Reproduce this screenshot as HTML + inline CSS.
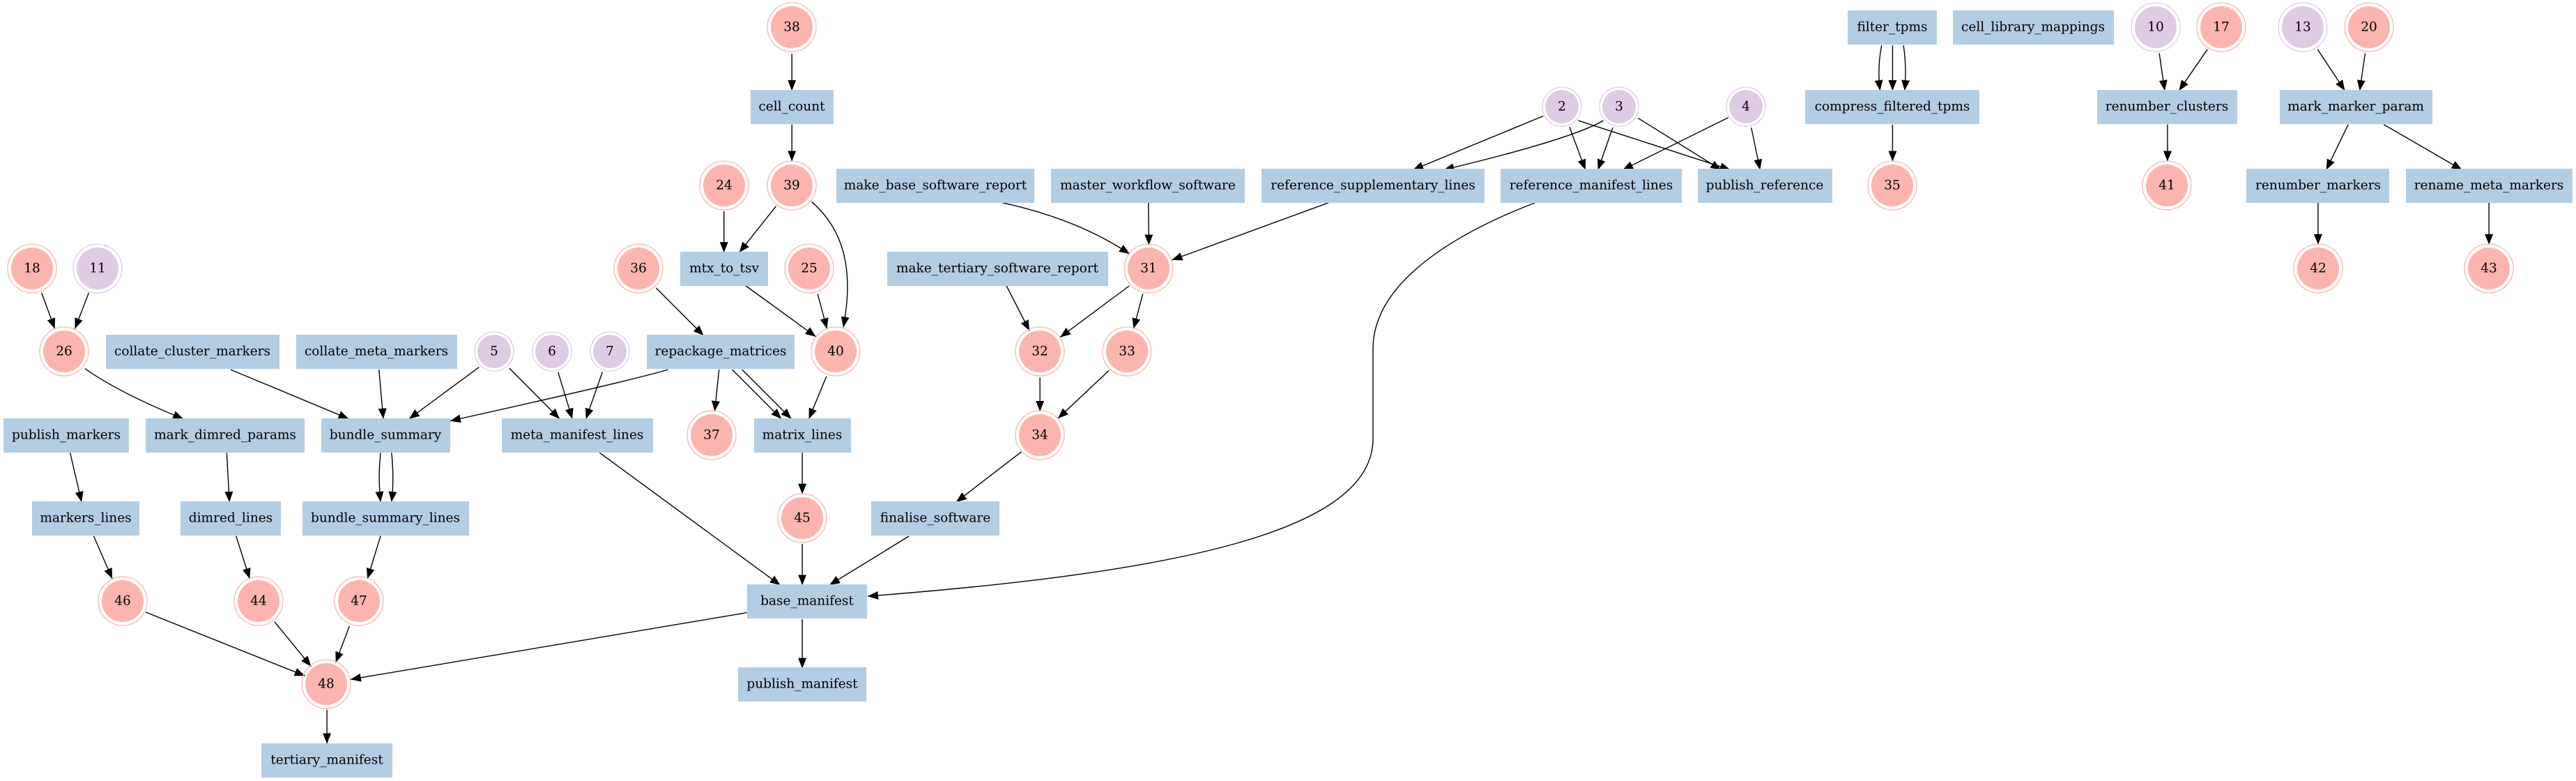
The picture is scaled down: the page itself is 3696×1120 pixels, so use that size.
<!DOCTYPE html>
<html><head><meta charset="utf-8"><style>
html,body{margin:0;padding:0;background:#fff;}
svg{display:block;}
text{font-family:"DejaVu Serif","Liberation Serif",serif;font-size:18.5px;fill:#000;text-anchor:middle;dominant-baseline:central;}
.b{fill:#b3cde3;}
.p{fill:#fbb4ae;}
.po{fill:none;stroke:#fbb4ae;stroke-width:1.3;}
.l{fill:#decbe4;}
.lo{fill:none;stroke:#decbe4;stroke-width:1.3;}
.e{fill:none;stroke:#000;stroke-width:1.4;}
</style></head><body>
<svg id="g" width="3696" height="1120" viewBox="0 0 3696 1120" xmlns="http://www.w3.org/2000/svg">
<defs><marker id="a" markerUnits="userSpaceOnUse" markerWidth="16" markerHeight="12" refX="15" refY="6" orient="auto"><path d="M0,0 L15,6 L0,12 z" fill="#000"/></marker></defs>
<g id="edges"></g>
<g>
<rect class="b" x="1077" y="129" width="119" height="49"/><text x="1136" y="153">cell_count</text>
<rect class="b" x="976" y="361" width="126" height="49"/><text x="1039" y="385">mtx_to_tsv</text>
<rect class="b" x="152" y="480" width="249" height="49"/><text x="276" y="504">collate_cluster_markers</text>
<rect class="b" x="425" y="480" width="231" height="49"/><text x="540" y="504">collate_meta_markers</text>
<rect class="b" x="928" y="480" width="212" height="49"/><text x="1034" y="504">repackage_matrices</text>
<rect class="b" x="5" y="600" width="180" height="49"/><text x="95" y="624">publish_markers</text>
<rect class="b" x="209" y="600" width="228" height="49"/><text x="323" y="624">mark_dimred_params</text>
<rect class="b" x="461" y="600" width="185" height="49"/><text x="553" y="624">bundle_summary</text>
<rect class="b" x="720" y="600" width="217" height="49"/><text x="828" y="624">meta_manifest_lines</text>
<rect class="b" x="1082" y="600" width="139" height="49"/><text x="1151" y="624">matrix_lines</text>
<rect class="b" x="46" y="719" width="154" height="49"/><text x="123" y="743">markers_lines</text>
<rect class="b" x="259" y="719" width="144" height="49"/><text x="331" y="743">dimred_lines</text>
<rect class="b" x="434" y="719" width="239" height="49"/><text x="553" y="743">bundle_summary_lines</text>
<rect class="b" x="1072" y="838" width="172" height="49"/><text x="1158" y="862">base_manifest</text>
<rect class="b" x="1059" y="957" width="184" height="49"/><text x="1151" y="981">publish_manifest</text>
<rect class="b" x="375" y="1066" width="188" height="49"/><text x="469" y="1090">tertiary_manifest</text>
<rect class="b" x="1200" y="242" width="284" height="49"/><text x="1342" y="266">make_base_software_report</text>
<rect class="b" x="1508" y="242" width="278" height="49"/><text x="1647" y="266">master_workflow_software</text>
<rect class="b" x="1810" y="242" width="320" height="49"/><text x="1970" y="266">reference_supplementary_lines</text>
<rect class="b" x="2153" y="242" width="260" height="49"/><text x="2283" y="266">reference_manifest_lines</text>
<rect class="b" x="2436" y="242" width="193" height="49"/><text x="2532" y="266">publish_reference</text>
<rect class="b" x="1273" y="361" width="317" height="49"/><text x="1431" y="385">make_tertiary_software_report</text>
<rect class="b" x="1250" y="719" width="184" height="49"/><text x="1342" y="743">finalise_software</text>
<rect class="b" x="2651" y="15" width="128" height="49"/><text x="2715" y="39">filter_tpms</text>
<rect class="b" x="2802" y="15" width="231" height="49"/><text x="2917" y="39">cell_library_mappings</text>
<rect class="b" x="2590" y="129" width="250" height="49"/><text x="2715" y="153">compress_filtered_tpms</text>
<rect class="b" x="3009" y="129" width="201" height="49"/><text x="3109" y="153">renumber_clusters</text>
<rect class="b" x="3271" y="129" width="219" height="49"/><text x="3380" y="153">mark_marker_param</text>
<rect class="b" x="3223" y="242" width="205" height="49"/><text x="3326" y="266">renumber_markers</text>
<rect class="b" x="3452" y="242" width="239" height="49"/><text x="3571" y="266">rename_meta_markers</text>
</g>
<g>
<g transform="translate(1136,39)"><circle class="po" r="35"/><circle class="p" r="30"/><text>38</text></g>
<g transform="translate(1039,266)"><circle class="po" r="35"/><circle class="p" r="30"/><text>24</text></g>
<g transform="translate(1136,266)"><circle class="po" r="35"/><circle class="p" r="30"/><text>39</text></g>
<g transform="translate(46,385)"><circle class="po" r="35"/><circle class="p" r="30"/><text>18</text></g>
<g transform="translate(916,385)"><circle class="po" r="35"/><circle class="p" r="30"/><text>36</text></g>
<g transform="translate(1161,385)"><circle class="po" r="35"/><circle class="p" r="30"/><text>25</text></g>
<g transform="translate(92,504)"><circle class="po" r="35"/><circle class="p" r="30"/><text>26</text></g>
<g transform="translate(1199,504)"><circle class="po" r="35"/><circle class="p" r="30"/><text>40</text></g>
<g transform="translate(1021,624)"><circle class="po" r="35"/><circle class="p" r="30"/><text>37</text></g>
<g transform="translate(1151,743)"><circle class="po" r="35"/><circle class="p" r="30"/><text>45</text></g>
<g transform="translate(176,862)"><circle class="po" r="35"/><circle class="p" r="30"/><text>46</text></g>
<g transform="translate(371,862)"><circle class="po" r="35"/><circle class="p" r="30"/><text>44</text></g>
<g transform="translate(515,862)"><circle class="po" r="35"/><circle class="p" r="30"/><text>47</text></g>
<g transform="translate(468,981)"><circle class="po" r="35"/><circle class="p" r="30"/><text>48</text></g>
<g transform="translate(1648,385)"><circle class="po" r="35"/><circle class="p" r="30"/><text>31</text></g>
<g transform="translate(1492,504)"><circle class="po" r="35"/><circle class="p" r="30"/><text>32</text></g>
<g transform="translate(1617,504)"><circle class="po" r="35"/><circle class="p" r="30"/><text>33</text></g>
<g transform="translate(1492,624)"><circle class="po" r="35"/><circle class="p" r="30"/><text>34</text></g>
<g transform="translate(3187,39)"><circle class="po" r="35"/><circle class="p" r="30"/><text>17</text></g>
<g transform="translate(3399,39)"><circle class="po" r="35"/><circle class="p" r="30"/><text>20</text></g>
<g transform="translate(2715,266)"><circle class="po" r="35"/><circle class="p" r="30"/><text>35</text></g>
<g transform="translate(3109,266)"><circle class="po" r="35"/><circle class="p" r="30"/><text>41</text></g>
<g transform="translate(3326,385)"><circle class="po" r="35"/><circle class="p" r="30"/><text>42</text></g>
<g transform="translate(3571,385)"><circle class="po" r="35"/><circle class="p" r="30"/><text>43</text></g>
</g>
<g>
<g transform="translate(140,385)"><circle class="lo" r="35"/><circle class="l" r="30"/><text>11</text></g>
<g transform="translate(3093,39)"><circle class="lo" r="35"/><circle class="l" r="30"/><text>10</text></g>
<g transform="translate(3304,39)"><circle class="lo" r="35"/><circle class="l" r="30"/><text>13</text></g>
<g transform="translate(709,504)"><circle class="lo" r="28"/><circle class="l" r="24"/><text>5</text></g>
<g transform="translate(792,504)"><circle class="lo" r="28"/><circle class="l" r="24"/><text>6</text></g>
<g transform="translate(875,504)"><circle class="lo" r="28"/><circle class="l" r="24"/><text>7</text></g>
<g transform="translate(2241,153)"><circle class="lo" r="28"/><circle class="l" r="24"/><text>2</text></g>
<g transform="translate(2323,153)"><circle class="lo" r="28"/><circle class="l" r="24"/><text>3</text></g>
<g transform="translate(2505,153)"><circle class="lo" r="28"/><circle class="l" r="24"/><text>4</text></g>
</g>
</svg>
<script>
(function(){
var g=document.getElementById('edges');
var NS='http://www.w3.org/2000/svg';
function X(o,x){return (o+x/1.2727).toFixed(1);}
function Y(y){return (y/1.4).toFixed(1);}
function P(d){var p=document.createElementNS(NS,'path');p.setAttribute('d',d);p.setAttribute('class','e');p.setAttribute('marker-end','url(#a)');g.appendChild(p);}
function L(o,x1,y1,x2,y2){P('M'+X(o,x1)+','+Y(y1)+' L'+X(o,x2)+','+Y(y2));}
function Q(o,x1,y1,cx,cy,x2,y2){P('M'+X(o,x1)+','+Y(y1)+' Q'+X(o,cx)+','+Y(cy)+' '+X(o,x2)+','+Y(y2));}
function C(o,x1,y1,a,b,c,d,x2,y2){P('M'+X(o,x1)+','+Y(y1)+' C'+X(o,a)+','+Y(b)+' '+X(o,c)+','+Y(d)+' '+X(o,x2)+','+Y(y2));}
var o=0;
L(o,1446,108,1446,182);L(o,1446,250,1446,324);L(o,1322,424,1322,507);L(o,1417,414,1350,507);
C(o,1482,405,1540,460,1560,540,1540,657);
L(o,1362,574,1490,676);L(o,1493,590,1510,660);L(o,1198,578,1285,674);
L(o,76,588,100,660);L(o,162,588,137,660);Q(o,155,740,220,790,335,841);
L(o,421,742,637,841);L(o,692,742,700,841);L(o,875,737,747,841);L(o,930,739,1022,841);
L(o,1019,747,1045,841);L(o,1100,747,1070,841);Q(o,1220,742,1150,765,822,845);
L(o,1313,742,1305,826);L(o,1337,742,1427,841);L(o,1355,742,1445,841);L(o,1509,756,1477,841);
L(o,128,909,149,1008);L(o,414,909,419,1008);Q(o,695,909,690,960,695,1008);Q(o,715,909,720,960,715,1008);
L(o,1465,909,1465,992);L(o,171,1076,205,1162);L(o,431,1076,456,1162);L(o,695,1076,671,1162);
L(o,1095,909,1425,1175);L(o,1465,1092,1465,1175);L(o,1364,1230,640,1364);
L(o,266,1229,557,1357);L(o,501,1248,568,1338);L(o,638,1257,613,1330);
L(o,1465,1243,1465,1342);L(o,597,1425,597,1493);
P('M1304,769 L1190,839');
P('M2202,291 C2100,330 1970,400 1970,500 L1970,629 C1970,760 1700,820 1245,855');
o=1232;
Q(o,262,407,400,440,495,510);L(o,529,407,530,492);L(o,858,407,572,522);
L(o,270,574,312,664);L(o,494,574,368,677);L(o,519,590,502,660);L(o,331,758,331,826);L(o,457,744,364,840);
L(o,297,907,178,1008);
L(o,1250,233,1012,341);L(o,1298,255,1327,341);L(o,1314,242,1592,341);
Q(o,1360,242,1300,280,1068,341);L(o,1377,256,1350,341);L(o,1423,237,1575,341);
o=2464;
L(o,20,236,-173,341);L(o,62,256,78,341);
Q(o,300,91,292,136,297,182);L(o,320,91,320,182);Q(o,340,91,346,136,342,182);
L(o,320,250,320,324);L(o,807,107,817,182);L(o,895,99,843,182);L(o,822,250,822,324);
L(o,1096,99,1146,182);L(o,1183,107,1173,182);L(o,1152,250,1112,341);L(o,1217,250,1360,341);
L(o,1097,407,1097,491);L(o,1409,407,1409,491);
})();
</script>
</body></html>
